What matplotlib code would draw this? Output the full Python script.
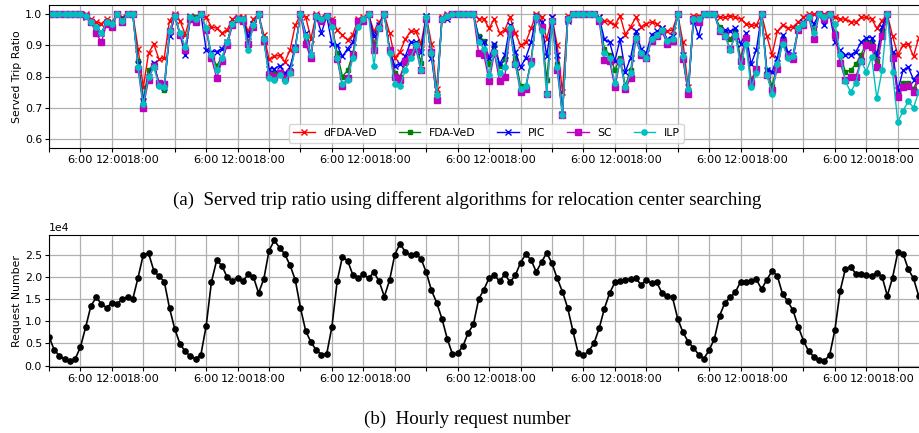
import matplotlib
matplotlib.use("Agg")
import matplotlib.pyplot as plt
import numpy as np

# hours 0..166 (one point per hour, about 7 days)
tick_names = ['', '6:00', '12:00', '18:00']

dfda_ved = [1.0, 1.0, 1.0, 1.0, 1.0, 1.0, 1.0, 1.0, 0.985, 0.975, 0.97, 0.985, 0.975, 1.0, 0.99, 1.0, 1.0,
            0.89, 0.765, 0.875, 0.905, 0.855, 0.86, 0.98, 1.0, 0.98, 0.935, 0.995, 0.99, 1.0, 0.99, 0.96,
            0.955, 0.94, 0.95, 0.985, 0.99, 0.99, 0.945, 0.985, 1.0, 0.935, 0.855, 0.865, 0.868, 0.847,
            0.885, 0.965, 1.0, 0.99, 0.922, 1.0, 0.99, 0.995, 0.985, 0.95, 0.933, 0.917, 0.935, 0.985,
            0.99, 1.0, 0.945, 0.975, 1.0, 0.94, 0.86, 0.88, 0.92, 0.945, 0.945, 0.905, 0.995, 0.905,
            0.76, 0.99, 1.0, 1.0, 1.0, 1.0, 1.0, 1.0, 0.985, 0.985, 0.955, 0.985, 0.94, 0.95, 0.99, 0.94,
            0.90, 0.91, 0.955, 1.0, 0.99, 0.92, 0.99, 0.90, 0.75, 0.995, 1.0, 1.0, 1.0, 1.0, 1.0, 0.99,
            0.98, 0.975, 0.965, 0.995, 0.935, 0.96, 0.99, 0.96, 0.97, 0.975, 0.97, 0.955, 0.945, 0.95,
            1.0, 0.91, 0.765, 0.995, 0.995, 1.0, 1.0, 1.0, 0.99, 0.99, 0.995, 0.99, 0.985, 0.97, 0.965,
            0.965, 1.0, 0.93, 0.87, 0.945, 0.965, 0.955, 0.96, 0.975, 0.99, 1.0, 1.0, 1.0, 1.0, 1.0,
            0.99, 0.985, 0.985, 0.975, 0.975, 0.99, 0.99, 0.985, 0.955, 0.98, 1.0, 0.93, 0.87, 0.90,
            0.905, 0.865, 0.925]

fda_ved = [1.0, 1.0, 1.0, 1.0, 1.0, 1.0, 1.0, 0.995, 0.975, 0.955, 0.94, 0.975, 0.97, 1.0, 0.985, 1.0, 1.0,
           0.85, 0.725, 0.82, 0.84, 0.775, 0.755, 0.945, 0.995, 0.94, 0.89, 0.99, 0.99, 1.0, 0.955, 0.87,
           0.835, 0.86, 0.91, 0.97, 0.985, 0.985, 0.91, 0.965, 1.0, 0.92, 0.81, 0.81, 0.815, 0.80, 0.82,
           0.895, 1.0, 0.92, 0.865, 0.995, 0.985, 0.995, 0.965, 0.875, 0.80, 0.82, 0.875, 0.97, 0.985,
           1.0, 0.905, 0.96, 1.0, 0.89, 0.81, 0.80, 0.845, 0.865, 0.905, 0.845, 0.99, 0.87, 0.745, 0.985,
           0.995, 1.0, 1.0, 1.0, 1.0, 1.0, 0.93, 0.915, 0.84, 0.90, 0.835, 0.855, 0.95, 0.86, 0.77, 0.77,
           0.85, 0.99, 0.95, 0.79, 0.98, 0.84, 0.675, 0.985, 1.0, 1.0, 1.0, 1.0, 1.0, 0.985, 0.89, 0.87,
           0.82, 0.86, 0.77, 0.82, 0.93, 0.875, 0.865, 0.925, 0.935, 0.945, 0.915, 0.92, 1.0, 0.86, 0.75,
           0.985, 0.985, 1.0, 1.0, 1.0, 0.96, 0.94, 0.92, 0.945, 0.86, 0.92, 0.79, 0.82, 1.0, 0.82, 0.77,
           0.835, 0.92, 0.87, 0.865, 0.955, 0.97, 0.99, 0.95, 1.0, 0.99, 1.0, 0.94, 0.87, 0.815, 0.82,
           0.84, 0.87, 0.91, 0.91, 0.85, 0.95, 1.0, 0.87, 0.74, 0.78, 0.78, 0.76, 0.80]

pic = [1.0, 1.0, 1.0, 1.0, 1.0, 1.0, 1.0, 0.99, 0.975, 0.96, 0.94, 0.975, 0.97, 1.0, 0.985, 1.0, 1.0,
       0.84, 0.72, 0.80, 0.845, 0.775, 0.765, 0.93, 0.995, 0.935, 0.87, 0.99, 0.985, 1.0, 0.885, 0.88,
       0.88, 0.89, 0.91, 0.97, 0.985, 0.985, 0.93, 0.97, 1.0, 0.92, 0.825, 0.825, 0.835, 0.81, 0.83,
       0.895, 1.0, 0.94, 0.87, 0.995, 0.94, 0.995, 0.905, 0.90, 0.865, 0.89, 0.91, 0.975, 0.98, 1.0,
       0.93, 0.965, 1.0, 0.885, 0.835, 0.84, 0.865, 0.91, 0.91, 0.88, 0.995, 0.86, 0.735, 0.985, 0.985,
       1.0, 1.0, 1.0, 1.0, 1.0, 0.925, 0.91, 0.86, 0.905, 0.84, 0.87, 0.965, 0.88, 0.83, 0.86, 0.91,
       0.995, 0.975, 0.865, 0.99, 0.87, 0.68, 0.98, 1.0, 1.0, 1.0, 1.0, 1.0, 0.99, 0.92, 0.91, 0.85,
       0.92, 0.815, 0.86, 0.945, 0.89, 0.875, 0.935, 0.945, 0.955, 0.92, 0.93, 1.0, 0.87, 0.75, 0.98,
       0.93, 1.0, 1.0, 1.0, 0.95, 0.95, 0.945, 0.955, 0.905, 0.94, 0.84, 0.885, 1.0, 0.82, 0.815, 0.86,
       0.935, 0.88, 0.87, 0.955, 0.975, 0.99, 0.97, 1.0, 0.965, 1.0, 0.91, 0.885, 0.87, 0.87, 0.88,
       0.91, 0.925, 0.925, 0.87, 0.96, 1.0, 0.88, 0.755, 0.82, 0.83, 0.79, 0.81]

sc = [1.0, 1.0, 1.0, 1.0, 1.0, 1.0, 1.0, 0.995, 0.975, 0.94, 0.91, 0.97, 0.96, 1.0, 0.975, 1.0, 1.0,
      0.825, 0.70, 0.79, 0.835, 0.78, 0.775, 0.945, 0.995, 0.935, 0.885, 0.985, 0.975, 1.0, 0.95, 0.86,
      0.795, 0.85, 0.90, 0.965, 0.985, 0.98, 0.905, 0.96, 1.0, 0.915, 0.805, 0.80, 0.81, 0.795, 0.815,
      0.89, 1.0, 0.905, 0.858, 0.995, 0.98, 0.995, 0.975, 0.855, 0.77, 0.795, 0.87, 0.98, 0.98, 1.0,
      0.885, 0.955, 1.0, 0.885, 0.80, 0.79, 0.85, 0.88, 0.89, 0.82, 0.985, 0.88, 0.725, 0.985, 0.995,
      1.0, 1.0, 1.0, 1.0, 1.0, 0.875, 0.87, 0.785, 0.875, 0.785, 0.80, 0.945, 0.84, 0.75, 0.76, 0.85,
      0.985, 0.96, 0.745, 0.98, 0.82, 0.675, 0.985, 1.0, 1.0, 1.0, 1.0, 1.0, 0.98, 0.853, 0.85, 0.765,
      0.85, 0.76, 0.795, 0.92, 0.87, 0.86, 0.915, 0.93, 0.945, 0.905, 0.915, 1.0, 0.855, 0.745, 0.985,
      0.975, 1.0, 1.0, 1.0, 0.945, 0.93, 0.89, 0.93, 0.85, 0.925, 0.78, 0.825, 1.0, 0.805, 0.755, 0.825,
      0.91, 0.865, 0.855, 0.95, 0.965, 0.99, 0.92, 1.0, 0.985, 1.0, 0.935, 0.845, 0.79, 0.80, 0.80,
      0.85, 0.90, 0.895, 0.83, 0.93, 1.0, 0.86, 0.735, 0.765, 0.77, 0.75, 0.79]

ilp = [1.0, 1.0, 1.0, 1.0, 1.0, 1.0, 1.0, 0.995, 0.975, 0.96, 0.94, 0.975, 0.97, 1.0, 0.98, 1.0, 1.0,
       0.83, 0.71, 0.80, 0.83, 0.77, 0.765, 0.945, 0.995, 0.94, 0.895, 0.99, 0.985, 1.0, 0.955, 0.87,
       0.82, 0.86, 0.91, 0.97, 0.985, 0.985, 0.885, 0.965, 1.0, 0.92, 0.795, 0.79, 0.805, 0.785, 0.81,
       0.89, 1.0, 0.93, 0.87, 0.995, 0.985, 0.995, 0.96, 0.86, 0.775, 0.79, 0.86, 0.96, 0.985, 1.0,
       0.835, 0.955, 1.0, 0.875, 0.775, 0.77, 0.82, 0.86, 0.90, 0.82, 0.99, 0.875, 0.74, 0.985, 0.995,
       1.0, 1.0, 1.0, 1.0, 1.0, 0.91, 0.89, 0.805, 0.88, 0.81, 0.83, 0.955, 0.84, 0.76, 0.77, 0.84,
       0.99, 0.945, 0.745, 0.98, 0.83, 0.675, 0.985, 1.0, 1.0, 1.0, 1.0, 1.0, 0.985, 0.875, 0.86, 0.78,
       0.85, 0.765, 0.81, 0.925, 0.875, 0.86, 0.92, 0.935, 0.95, 0.915, 0.92, 1.0, 0.865, 0.76, 0.985,
       0.985, 1.0, 1.0, 1.0, 0.95, 0.93, 0.885, 0.935, 0.83, 0.905, 0.765, 0.81, 1.0, 0.805, 0.745, 0.84,
       0.905, 0.86, 0.865, 0.955, 0.97, 0.99, 0.94, 1.0, 0.99, 1.0, 0.97, 0.87, 0.785, 0.75, 0.78,
       0.85, 0.815, 0.863, 0.73, 0.82, 1.0, 0.815, 0.653, 0.69, 0.72, 0.70, 0.75]

requests = [6550, 3540, 2200, 1400, 1050, 1500, 4200, 8700, 13500, 15400, 14000, 13100, 14200, 14000,
            15000, 15500, 15100, 19900, 25100, 25400, 21500, 20200, 19000, 13000, 8300, 4900, 3200, 2100,
            1500, 2500, 9000, 18900, 23800, 22600, 20000, 19200, 19900, 19100, 20600, 20100, 16400, 19600,
            26000, 28300, 26700, 25200, 22700, 19400, 13000, 7800, 5300, 3500, 2500, 2600, 8800, 19100,
            24600, 23700, 20500, 19700, 20600, 19800, 21100, 19100, 15600, 19300, 25100, 27600, 25700,
            25100, 25200, 24200, 21100, 17000, 14200, 10600, 6100, 2600, 2800, 4400, 7400, 9300, 15000,
            17200, 19800, 20400, 19100, 20600, 18900, 20400, 23300, 25200, 23900, 21200, 23400, 25500,
            23100, 19700, 16700, 13000, 7800, 2800, 2300, 3300, 5000, 8400, 12900, 16400, 18800, 19200,
            19300, 19600, 19700, 18300, 19300, 18700, 18800, 16400, 15800, 15400, 10600, 7500, 5400, 4000,
            2500, 1600, 3500, 6100, 11300, 14200, 15400, 16600, 19000, 18800, 19200, 19500, 17300, 19400,
            21400, 20300, 16200, 14500, 12500, 8800, 5600, 3200, 2000, 1200, 1100, 2400, 8100, 16900,
            21900, 22400, 20700, 20800, 20400, 20300, 21000, 20100, 15800, 19900, 25600, 25300, 21800,
            19700, 15700]

hours = np.arange(len(requests))
ticks = np.arange(0, len(requests), 6)
labels = [tick_names[(t // 6) % 4] for t in ticks]

plt.rcParams['font.family'] = 'DejaVu Sans'
plt.rcParams['font.size'] = 7.8

fig = plt.figure(figsize=(9.2, 4.33), dpi=100)
ax = fig.add_axes([49 / 920, 1 - 148 / 433, 875 / 920, 143 / 433])
ax2 = fig.add_axes([49 / 920, 1 - 366.7 / 433, 875 / 920, 132 / 433])

ax.plot(hours, dfda_ved, '-x', color='r', lw=1, ms=4, mew=1, label='dFDA-VeD')
ax.plot(hours, fda_ved, '-s', color='g', lw=1, ms=3.5, label='FDA-VeD')
ax.plot(hours, pic, '-x', color='b', lw=1, ms=4, mew=1, label='PIC')
ax.plot(hours, sc, '-s', color='m', lw=1, ms=4.2, label='SC')
ax.plot(hours, ilp, '-o', color='c', lw=1, ms=3.8, label='ILP')

for a in (ax, ax2):
    a.set_xlim(0, 167)
    a.set_xticks(ticks)
    a.set_xticklabels(labels, fontsize=8.2)
    a.grid(True, color='#b0b0b0', lw=0.9)
    a.tick_params(length=3, pad=2)

ax.set_ylim(0.57, 1.03)
ax.set_yticks([0.6, 0.7, 0.8, 0.9, 1.0])
ax.set_ylabel('Served Trip Ratio')
ax.yaxis.set_label_coords(-0.031, 0.5)
ax.legend(loc='lower center', ncol=5, fontsize=7.8)

ax2.plot(hours, requests, '-o', color='k', lw=1.2, ms=3.8)
ax2.set_ylim(-250, 29600)
ax2.ticklabel_format(axis='y', style='sci', scilimits=(0, 0))
ax2.set_ylabel('Request Number')
ax2.yaxis.set_label_coords(-0.031, 0.5)

fig.text(467.5 / 920, 1 - 200 / 433,
         '(a)  Served trip ratio using different algorithms for relocation center searching',
         ha='center', va='center', family='Liberation Serif', fontsize=13.6)
fig.text(467.5 / 920, 1 - 419 / 433, '(b)  Hourly request number',
         ha='center', va='center', family='Liberation Serif', fontsize=13.6)

fig.savefig('out.png', dpi=100)
